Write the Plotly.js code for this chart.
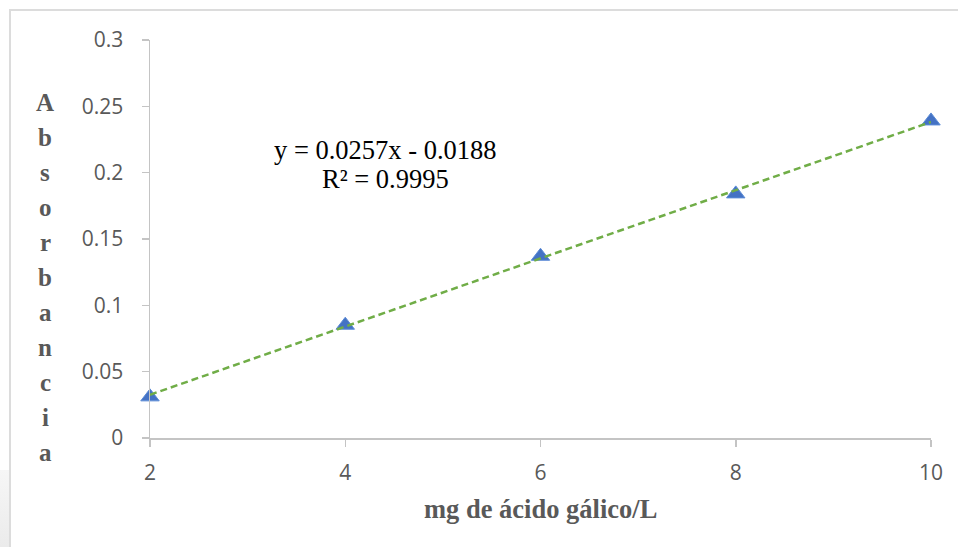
<!DOCTYPE html>
<html>
<head>
<meta charset="utf-8">
<script src="https://cdn.plot.ly/plotly-3.0.1.min.js"></script>
<style>
  html, body { margin: 0; padding: 0; background: #ffffff; overflow: hidden; }
  #frame { position: absolute; left: 9px; top: 9px; width: 1000px; height: 600px;
           border-top: 2px solid #dcdcdc; border-left: 2px solid #dcdcdc; }
  #smear { position: absolute; left: 0; top: 470px; width: 9px; height: 77px;
           background: linear-gradient(#f6f6f6, #ebebeb); }
  #chart { position: absolute; left: 0; top: 0; width: 958px; height: 547px; }
</style>
</head>
<body>
<div id="smear"></div>
<div id="frame"></div>
<div id="chart"></div>
<script>
// ---- data ----
const concentration = [2, 4, 6, 8, 10];               // mg de ácido gálico/L
const absorbance = [0.031, 0.085, 0.137, 0.184, 0.239];
const trendSlope = 0.0257;
const trendIntercept = -0.0188;
const rSquared = 0.9995;
const xTicks = [2, 4, 6, 8, 10];
const yTicks = [0, 0.05, 0.1, 0.15, 0.2, 0.25, 0.3];
const yTickLabels = ['0', '0.05', '0.1', '0.15', '0.2', '0.25', '0.3'];
const xTitle = 'mg de ácido gálico/L';
const yTitle = 'Absorbancia';

// ---- trendline from the displayed equation ----
const trendX = [concentration[0], concentration[concentration.length - 1]];
const trendY = trendX.map(x => trendSlope * x + trendIntercept);

const W = 958, H = 547, mL = 150, mR = 27, mT = 40, mB = 109;
const plotH = H - mT - mB;
const pyToPaper = py => (H - mB - py) / plotH;
const pxToPaper = px => (px - mL) / (W - mL - mR);

const markers = {
  x: concentration, y: absorbance, type: 'scatter', mode: 'markers',
  marker: { symbol: 'triangle-up', size: 16, color: '#4472C4',
            line: { color: '#5b8bd6', width: 1 } },
  cliponaxis: false, showlegend: false, hoverinfo: 'x+y'
};
const trend = {
  x: trendX, y: trendY, type: 'scatter', mode: 'lines',
  line: { color: '#70AD47', width: 2.5, dash: '7px,4px' },
  cliponaxis: false, showlegend: false, hoverinfo: 'skip'
};

const serif = 'Liberation Serif, Times New Roman, serif';
const annotations = [];
// stacked vertical y title
const letters = yTitle.split('');
const firstBase = 110, step = 35;
letters.forEach((ch, i) => {
  annotations.push({
    text: '<b>' + ch + '</b>', xref: 'paper', yref: 'paper', showarrow: false,
    x: pxToPaper(45), y: pyToPaper(firstBase + i * step - 8),
    xanchor: 'center', yanchor: 'middle',
    font: { family: serif, size: 25, color: '#595959' }
  });
});
// x title
annotations.push({
  text: '<b>' + xTitle + '</b>', xref: 'paper', yref: 'paper', showarrow: false,
  x: pxToPaper(540), y: pyToPaper(509), xanchor: 'center', yanchor: 'middle',
  font: { family: serif, size: 26.5, color: '#595959' }
});
// equation
const sign = trendIntercept < 0 ? ' - ' : ' + ';
annotations.push({
  text: 'y = ' + trendSlope.toFixed(4) + 'x' + sign + Math.abs(trendIntercept).toFixed(4),
  xref: 'paper', yref: 'paper', showarrow: false,
  x: pxToPaper(385), y: pyToPaper(150), xanchor: 'center', yanchor: 'middle',
  font: { family: serif, size: 26.5, color: '#000000' }
});
annotations.push({
  text: 'R² = ' + rSquared.toFixed(4),
  xref: 'paper', yref: 'paper', showarrow: false,
  x: pxToPaper(385), y: pyToPaper(179), xanchor: 'center', yanchor: 'middle',
  font: { family: serif, size: 26.5, color: '#000000' }
});

const tickFont = { family: 'Open Sans, sans-serif', size: 21, color: '#595959' };
const layout = {
  width: W, height: H,
  margin: { l: mL, r: mR, t: mT, b: mB },
  paper_bgcolor: 'rgba(0,0,0,0)', plot_bgcolor: 'rgba(0,0,0,0)',
  showlegend: false,
  xaxis: {
    range: [2, 10], tickmode: 'array', tickvals: xTicks, ticktext: xTicks.map(String),
    showgrid: false, zeroline: false, showline: true, linecolor: '#c4c4c4', linewidth: 1.5,
    ticks: 'outside', ticklen: 7, tickcolor: '#c4c4c4', tickwidth: 1.5,
    tickfont: tickFont, ticklabelstandoff: 8, fixedrange: true
  },
  yaxis: {
    range: [0, 0.3], tickmode: 'array', tickvals: yTicks, ticktext: yTickLabels,
    showgrid: false, zeroline: false, showline: true, linecolor: '#c4c4c4', linewidth: 1.5,
    ticks: 'outside', ticklen: 7, tickcolor: '#c4c4c4', tickwidth: 1.5,
    tickfont: tickFont, ticklabelstandoff: 14, fixedrange: true
  },
  annotations: annotations
};

Plotly.newPlot('chart', [markers, trend], layout, { displayModeBar: false, staticPlot: true });
</script>
</body>
</html>
